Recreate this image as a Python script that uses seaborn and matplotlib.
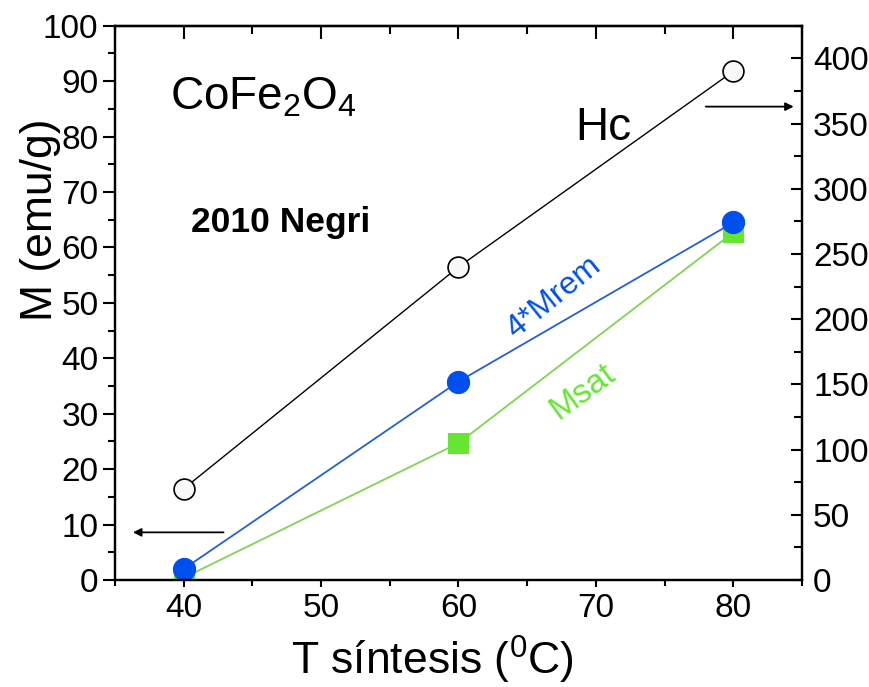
"""M and Hc vs synthesis temperature for CoFe2O4 (2010 Negri)."""
import numpy as np
import pandas as pd

import seaborn as sea
import matplotlib.pyplot as plt

sea.set_style("ticks")
plt.rcParams["font.family"] = ["Liberation Sans", "DejaVu Sans"]
plt.rcParams["mathtext.fontset"] = "custom"
plt.rcParams["mathtext.rm"] = "Liberation Sans"
plt.rcParams["mathtext.it"] = "Liberation Sans:italic"
plt.rcParams["mathtext.bf"] = "Liberation Sans:bold"
for k in ("text.color", "axes.labelcolor", "xtick.color", "ytick.color", "axes.edgecolor"):
    plt.rcParams[k] = "black"

# data
temperature = [40, 60, 80]
mrem_x4 = [2.0, 35.8, 64.5]     # emu/g, left axis
msat = [0.4, 24.7, 62.7]        # emu/g, left axis
hc = [70, 240, 390]             # right axis

df = pd.DataFrame({"T": temperature, "Mrem4": mrem_x4, "Msat": msat, "Hc": hc})

BLUE = "#0050F0"
BLUE_LINE = "#2060E0"
GREEN = "#66E633"
GREEN_LINE = "#7FD650"

fig = plt.figure(figsize=(8.7, 6.87), dpi=100)
ax = fig.add_axes([0.1322, 0.1557, 0.7896, 0.8069])
ax2 = ax.twinx()

sea.lineplot(data=df, x="T", y="Msat", ax=ax, color=GREEN_LINE, lw=1.3,
    marker="s", markersize=14, markerfacecolor=GREEN, markeredgecolor=GREEN)
sea.lineplot(data=df, x="T", y="Mrem4", ax=ax, color=BLUE_LINE, lw=1.3,
    marker="o", markersize=16, markerfacecolor=BLUE, markeredgecolor=BLUE)
sea.lineplot(data=df, x="T", y="Hc", ax=ax2, color="black", lw=1.0,
    marker="o", markersize=15, markerfacecolor="#F8F8F8",
    markeredgecolor="black", markeredgewidth=1.2)

ax.set_xlim(35, 85)
ax.set_ylim(0, 100)
ax2.set_ylim(0, 425)

ax.xaxis.set(major_locator=plt.MultipleLocator(10),
    minor_locator=plt.MultipleLocator(5))
ax.yaxis.set(major_locator=plt.MultipleLocator(10),
    minor_locator=plt.MultipleLocator(5))
ax2.yaxis.set(major_locator=plt.MultipleLocator(50),
    minor_locator=plt.MultipleLocator(25))

ax.tick_params(axis="x", which="both", direction="out", labelsize=24,
    top=False, pad=4, width=1.5)
ax.tick_params(axis="x", which="major", length=5)
ax.tick_params(axis="x", which="minor", length=4.5)
ax.tick_params(axis="y", which="both", direction="out", labelsize=24,
    right=False, pad=3, width=1.5)
ax.tick_params(axis="y", which="major", length=9)
ax.tick_params(axis="y", which="minor", length=5)
ax2.tick_params(axis="y", which="both", direction="in", labelsize=24,
    pad=8, width=1.5)
ax2.tick_params(axis="y", which="major", length=8)
ax2.tick_params(axis="y", which="minor", length=6)

# top ticks pointing inward
sec = ax.secondary_xaxis("top")
sec.xaxis.set(major_locator=plt.MultipleLocator(10),
    minor_locator=plt.MultipleLocator(5))
sec.tick_params(which="both", direction="in", labeltop=False, width=1.5)
sec.tick_params(which="major", length=9)
sec.tick_params(which="minor", length=6)

for a in (ax, ax2):
    for s in a.spines.values():
        s.set_linewidth(1.6)
sec.spines["top"].set_linewidth(1.6)

ax.set_xlabel("")
ax.set_ylabel("")
ax2.set_ylabel("")
fig.text(0.497, 0.04, "T síntesis ($^0$C)", fontsize=32, ha="center", va="center")
fig.text(0.046, 0.68, "M (emu/g)", fontsize=32, rotation=90, ha="center", va="center")

ax.text(39.0, 84.8, "CoFe$_2$O$_4$", fontsize=33, ha="left", va="baseline")
ax.text(68.5, 79.4, "Hc", fontsize=33, ha="left", va="baseline")
ax.text(40.5, 62.8, "2010 Negri", fontsize=25.5, weight="bold", ha="left", va="baseline")
ax.text(66.9, 51.0, "4*Mrem", fontsize=23, color=BLUE, rotation=39,
    rotation_mode="anchor", ha="center", va="center")
ax.text(69.0, 33.9, "Msat", fontsize=24, color=GREEN, rotation=36,
    rotation_mode="anchor", ha="center", va="center")

arrow = dict(arrowstyle="-|>", color="black", lw=1.3, mutation_scale=12)
ax.annotate("", xy=(36.1, 8.6), xytext=(43.1, 8.6), arrowprops=arrow)
ax.annotate("", xy=(84.6, 85.4), xytext=(77.8, 85.4), arrowprops=arrow)

plt.savefig("out.png", dpi=100)
plt.close()
